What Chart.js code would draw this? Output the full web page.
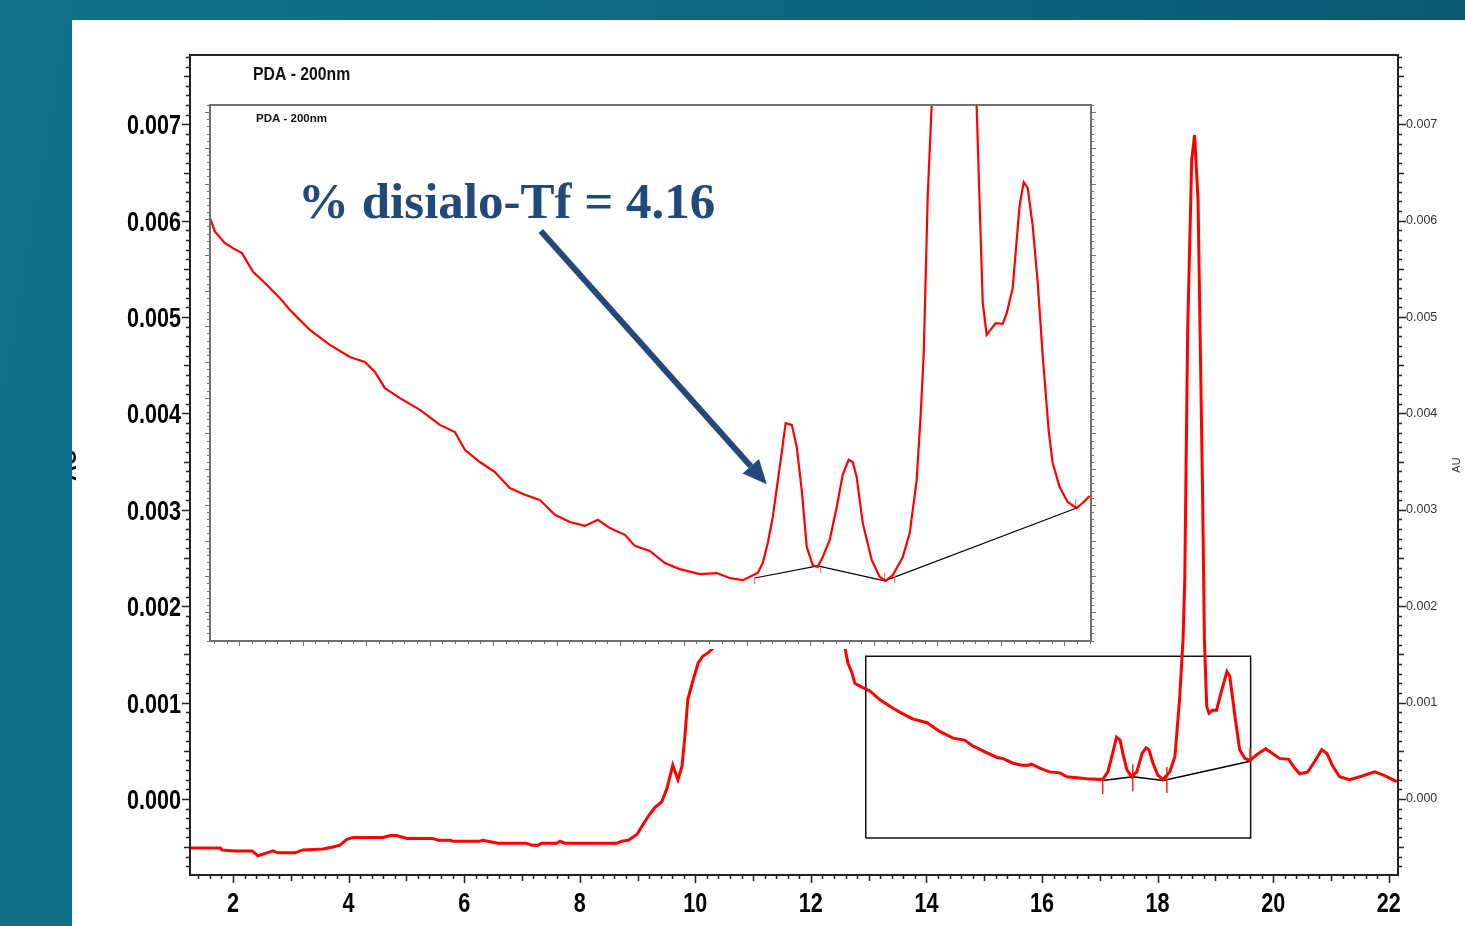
<!DOCTYPE html>
<html>
<head>
<meta charset="utf-8">
<script src="https://cdn.jsdelivr.net/npm/chart.js@4.4.1/dist/chart.umd.min.js"></script>
<style>
  html, body { margin: 0; padding: 0; }
  body {
    width: 1465px; height: 926px; position: relative; overflow: hidden;
    background: linear-gradient(100deg, #12728b 0%, #0e6880 45%, #0a5671 100%);
  }
  #page { position: absolute; left: 72px; top: 20px; right: 0; bottom: 0; background: #fff; }
  #mainChart { position: absolute; left: 0; top: 0; }
  #insetChart { position: absolute; left: 203px; top: 100px; }
</style>
</head>
<body>
<div id="page"></div>
<canvas id="mainChart" width="1465" height="926" style="width:1465px;height:926px"></canvas>
<canvas id="insetChart" width="894" height="549" style="width:894px;height:549px"></canvas>
<script>
// retention time (min) and absorbance (AU) of the full run
const mainTime = [
  1.25, 1.78, 1.81, 2.03, 2.33, 2.43, 2.59, 2.69, 2.78, 3.07,
  3.21, 3.56, 3.73, 3.85, 3.97, 4.08, 4.60, 4.72, 4.83, 5.01,
  5.46, 5.55, 5.75, 5.81, 6.27, 6.33, 6.41, 6.59, 7.08, 7.17,
  7.28, 7.34, 7.60, 7.66, 7.74, 8.64, 8.73, 8.84, 8.99, 9.10,
  9.21, 9.30, 9.42, 9.51, 9.61, 9.70, 9.77, 9.82, 9.87, 9.96,
  10.05, 10.13, 10.23, 10.30, 10.60, 11.00, 11.50, 12.00, 12.40, 12.59,
  12.64, 12.71, 12.76, 12.88, 13.02, 13.19, 13.42, 13.57, 13.76, 14.01,
  14.23, 14.46, 14.66, 14.80, 15.04, 15.22, 15.32, 15.50, 15.65, 15.76,
  15.82, 15.96, 16.13, 16.31, 16.43, 16.78, 17.05, 17.14, 17.22, 17.29,
  17.35, 17.40, 17.47, 17.55, 17.64, 17.73, 17.80, 17.85, 17.92, 18.00,
  18.09, 18.21, 18.30, 18.38, 18.44, 18.47, 18.52, 18.59, 18.64, 18.70,
  18.78, 18.81, 18.85, 18.89, 18.95, 19.02, 19.11, 19.20, 19.25, 19.34,
  19.42, 19.51, 19.60, 19.72, 19.87, 20.11, 20.27, 20.37, 20.46, 20.60,
  20.72, 20.84, 20.93, 21.03, 21.15, 21.32, 21.50, 21.76, 21.90, 22.14
]
const mainAbs = [
  -0.00051, -0.00051, -0.00053, -0.00054, -0.00054, -0.00059, -0.00056, -0.00054, -0.00056, -0.00056,
  -0.00053, -0.00052, -0.00050, -0.00048, -0.00042, -0.00040, -0.00040, -0.00038, -0.00038, -0.00041,
  -0.00041, -0.00043, -0.00043, -0.00044, -0.00044, -0.00043, -0.00044, -0.00046, -0.00046, -0.00048,
  -0.00048, -0.00046, -0.00046, -0.00044, -0.00046, -0.00046, -0.00044, -0.00043, -0.00037, -0.00026,
  -0.00016, -0.00009, -0.00003, 0.00011, 0.00035, 0.00020, 0.00034, 0.00065, 0.00103, 0.00123,
  0.00141, 0.00148, 0.00152, 0.00156, 0.00300, 0.00550, 0.00650, 0.00500, 0.00250, 0.00157,
  0.00141, 0.00131, 0.00120, 0.00116, 0.00112, 0.00103, 0.00094, 0.00089, 0.00083, 0.00079,
  0.00070, 0.00063, 0.00061, 0.00055, 0.00048, 0.00043, 0.00042, 0.00037, 0.00035, 0.00035,
  0.00036, 0.00032, 0.00028, 0.00027, 0.00023, 0.00021, 0.00020, 0.00028, 0.00047, 0.00064,
  0.00061, 0.00047, 0.00030, 0.00023, 0.00028, 0.00047, 0.00053, 0.00051, 0.00037, 0.00025,
  0.00020, 0.00028, 0.00044, 0.00103, 0.00165, 0.00227, 0.00486, 0.00663, 0.00689, 0.00621,
  0.00310, 0.00165, 0.00096, 0.00089, 0.00092, 0.00092, 0.00113, 0.00132, 0.00127, 0.00085,
  0.00051, 0.00042, 0.00040, 0.00046, 0.00052, 0.00042, 0.00041, 0.00032, 0.00026, 0.00028,
  0.00039, 0.00051, 0.00047, 0.00034, 0.00023, 0.00020, 0.00023, 0.00028, 0.00025, 0.00018
]

// zoomed trace shown in the inset
const insetTime = [
  12.770, 12.809, 12.888, 12.951, 13.022, 13.109, 13.219, 13.321, 13.400, 13.463,
  13.557, 13.715, 13.872, 13.990, 14.069, 14.148, 14.266, 14.424, 14.581, 14.699,
  14.778, 14.896, 15.014, 15.132, 15.250, 15.368, 15.487, 15.605, 15.723, 15.825,
  15.920, 16.038, 16.117, 16.235, 16.353, 16.471, 16.628, 16.762, 16.864, 16.967,
  17.085, 17.124, 17.164, 17.203, 17.258, 17.305, 17.353, 17.392, 17.431, 17.471,
  17.518, 17.557, 17.597, 17.652, 17.707, 17.754, 17.801, 17.833, 17.864, 17.912,
  17.983, 18.046, 18.093, 18.148, 18.227, 18.282, 18.337, 18.369, 18.392, 18.424,
  18.455, 18.640, 18.809, 18.825, 18.857, 18.888, 18.959, 19.014, 19.046, 19.093,
  19.148, 19.180, 19.211, 19.250, 19.290, 19.329, 19.376, 19.408, 19.463, 19.526,
  19.597, 19.644, 19.699
]
const insetAbs = [
  0.001203, 0.001165, 0.001133, 0.001119, 0.001105, 0.001053, 0.001016, 0.000979, 0.000946, 0.000923,
  0.000890, 0.000848, 0.000814, 0.000800, 0.000772, 0.000727, 0.000699, 0.000666, 0.000624, 0.000604,
  0.000554, 0.000520, 0.000492, 0.000447, 0.000428, 0.000414, 0.000372, 0.000352, 0.000341, 0.000358,
  0.000335, 0.000316, 0.000285, 0.000271, 0.000237, 0.000220, 0.000206, 0.000209, 0.000195, 0.000189,
  0.000209, 0.000237, 0.000293, 0.000366, 0.000506, 0.000629, 0.000624, 0.000562, 0.000442, 0.000282,
  0.000231, 0.000226, 0.000254, 0.000302, 0.000394, 0.000484, 0.000526, 0.000520, 0.000478, 0.000349,
  0.000245, 0.000198, 0.000187, 0.000203, 0.000254, 0.000321, 0.000470, 0.000657, 0.000820, 0.001268,
  0.001520, 0.006890, 0.001520, 0.001332, 0.000968, 0.000876, 0.000909, 0.000907, 0.000937, 0.001007,
  0.001240, 0.001304, 0.001288, 0.001184, 0.001024, 0.000820, 0.000610, 0.000517, 0.000450, 0.000408,
  0.000391, 0.000405, 0.000425
]

// integration baselines and peak markers
const mainBaseTime = [17.05, 17.57, 18.10, 19.60]
const mainBaseAbs = [0.00019, 0.00023, 0.00019, 0.00039]
const mainMarkTime = [17.05, 17.57, 18.16, 19.60]
const mainMarkTop = [0.00020, 0.00036, 0.00033, 0.00053]
const mainMarkBottom = [0.00005, 0.00008, 0.00006, 0.00038]

const insetBaseTime = [17.061, 17.557, 18.085, 19.597]
const insetBaseAbs = [0.000195, 0.000229, 0.000187, 0.000391]
const insetMarkTime = [17.061, 17.581, 18.085, 18.164, 19.589]
const insetMarkTop = [0.000198, 0.000226, 0.000209, 0.000203, 0.000414]
const insetMarkBottom = [0.000178, 0.000209, 0.000187, 0.000181, 0.000391]

// zoom box drawn on the full run
const zoomBoxTime = [12.95, 19.61]
const zoomBoxAbs = [-0.000405, 0.00148]

// axis ticks
const xTickValues = [2, 4, 6, 8, 10, 12, 14, 16, 18, 20, 22]
const xTickLabels = ['2', '4', '6', '8', '10', '12', '14', '16', '18', '20', '22']
const yTickValues = [0, 0.001, 0.002, 0.003, 0.004, 0.005, 0.006, 0.007]
const yTickLabels = ['0.000', '0.001', '0.002', '0.003', '0.004', '0.005', '0.006', '0.007']

const detectorLabel = 'PDA - 200nm'
const unitLabel = 'AU'
const annotationText = '% disialo-Tf = 4.16'
const annotationAt = { x: 13.479, y: 0.001203 }
const arrowFrom = { x: 15.376, y: 0.001167 }
const arrowTo = { x: 17.156, y: 0.000458 }

const sans = '"Liberation Sans", Arial, sans-serif'

function toPoints (xs, ys) {
  return xs.map((x, i) => ({ x: x, y: ys[i] }))
}

function markerSegments (xs, tops, bottoms) {
  const pts = []
  xs.forEach((x, i) => {
    pts.push({ x: x, y: tops[i] }, { x: x, y: bottoms[i] }, { x: x, y: null })
  })
  return pts
}

function boxPoints (xs, ys) {
  return [
    { x: xs[0], y: ys[0] }, { x: xs[1], y: ys[0] }, { x: xs[1], y: ys[1] },
    { x: xs[0], y: ys[1] }, { x: xs[0], y: ys[0] }
  ]
}

function lineSet (data, color, width, order) {
  return {
    data: data,
    borderColor: color,
    borderWidth: width,
    pointRadius: 0,
    tension: 0,
    spanGaps: false,
    fill: false,
    order: order
  }
}

// condensed text: the source uses a narrow bold face that is not installed
function narrowText (ctx, text, x, y, squeeze) {
  ctx.save()
  ctx.translate(x, y)
  ctx.scale(squeeze, 1)
  ctx.fillText(text, 0, 0)
  ctx.restore()
}

// frame plus the dense tick marks, placed with the chart's own scales
const axisTicks = {
  id: 'axisTicks',
  afterDatasetsDraw (chart, args, opts) {
    const { ctx, chartArea: area, scales } = chart
    ctx.save()
    ctx.strokeStyle = opts.color
    ctx.lineWidth = opts.frameWidth
    ctx.strokeRect(area.left, area.top, area.right - area.left, area.bottom - area.top)
    ctx.lineWidth = opts.tickWidth
    ctx.beginPath()
    const xs = scales.x
    const xo = opts.x
    for (let i = Math.ceil(xs.min / xo.step - 1e-6); i <= Math.floor(xs.max / xo.step + 1e-6); i++) {
      const px = Math.round(xs.getPixelForValue(i * xo.step)) + 0.5
      const len = i % xo.major === 0 ? xo.lens[2] : (i % xo.mid === 0 ? xo.lens[1] : xo.lens[0])
      ctx.moveTo(px, area.bottom)
      ctx.lineTo(px, area.bottom + len)
    }
    const ys = scales.y
    const yo = opts.y
    for (let i = Math.ceil(ys.min / yo.step - 1e-6); i <= Math.floor(ys.max / yo.step + 1e-6); i++) {
      const py = Math.round(ys.getPixelForValue(i * yo.step)) + 0.5
      const len = i % yo.major === 0 ? yo.lens[2] : (i % yo.mid === 0 ? yo.lens[1] : yo.lens[0])
      if (yo.left) {
        ctx.moveTo(area.left - len, py)
        ctx.lineTo(area.left, py)
      }
      if (yo.right) {
        ctx.moveTo(area.right, py)
        ctx.lineTo(area.right + len, py)
      }
    }
    ctx.stroke()
    ctx.restore()
  }
}

const mainLabels = {
  id: 'mainLabels',
  afterDraw (chart) {
    const { ctx, chartArea: area, scales } = chart
    ctx.save()
    ctx.fillStyle = '#000'
    ctx.textBaseline = 'alphabetic'

    // bold condensed tick labels on the left and bottom axes
    ctx.font = 'bold 27px ' + sans
    ctx.textAlign = 'right'
    scales.y.ticks.forEach((t, i) => {
      narrowText(ctx, yTickLabels[i], area.left - 9, scales.y.getPixelForValue(t.value) + 10, 0.8)
    })
    ctx.textAlign = 'center'
    scales.x.ticks.forEach((t, i) => {
      narrowText(ctx, xTickLabels[i], scales.x.getPixelForValue(t.value), area.bottom + 37, 0.8)
    })

    ctx.fillStyle = '#111'
    ctx.textAlign = 'left'
    ctx.font = 'bold 19px ' + sans
    narrowText(ctx, detectorLabel, area.left + 63, area.top + 25, 0.83)

    const midY = (area.top + area.bottom) / 2
    // left unit label, mostly hidden behind the slide border
    ctx.save()
    ctx.beginPath()
    ctx.rect(72, 20, 200, 900)
    ctx.clip()
    ctx.translate(76, midY)
    ctx.rotate(-Math.PI / 2)
    ctx.textAlign = 'center'
    ctx.font = 'bold 22px ' + sans
    ctx.fillText(unitLabel, 0, 0)
    ctx.restore()

    ctx.translate(area.right + 62, midY)
    ctx.rotate(-Math.PI / 2)
    ctx.textAlign = 'center'
    ctx.fillStyle = '#333'
    ctx.font = '11px ' + sans
    ctx.fillText(unitLabel, 0, 0)
    ctx.restore()
  }
}

const insetDecor = {
  id: 'insetDecor',
  beforeDraw (chart) {
    const { ctx, width, height } = chart
    ctx.save()
    ctx.fillStyle = '#fff'
    ctx.fillRect(0, 0, width, height)
    ctx.restore()
  },
  afterDraw (chart) {
    const { ctx, chartArea: area, scales } = chart
    ctx.save()
    ctx.fillStyle = '#111'
    ctx.font = 'bold 11.5px ' + sans
    ctx.fillText(detectorLabel, area.left + 46, area.top + 17)

    ctx.fillStyle = '#21497a'
    ctx.font = 'bold 51px "Liberation Serif", "DejaVu Serif", serif'
    ctx.fillText(annotationText, scales.x.getPixelForValue(annotationAt.x) - 2, scales.y.getPixelForValue(annotationAt.y))

    const x0 = scales.x.getPixelForValue(arrowFrom.x)
    const y0 = scales.y.getPixelForValue(arrowFrom.y)
    const x1 = scales.x.getPixelForValue(arrowTo.x)
    const y1 = scales.y.getPixelForValue(arrowTo.y)
    const ang = Math.atan2(y1 - y0, x1 - x0)
    const headLen = 24
    const headHalf = 11
    const bx = x1 - headLen * Math.cos(ang)
    const by = y1 - headLen * Math.sin(ang)
    ctx.strokeStyle = '#23497a'
    ctx.lineWidth = 6
    ctx.beginPath()
    ctx.moveTo(x0, y0)
    ctx.lineTo(bx, by)
    ctx.stroke()
    ctx.beginPath()
    ctx.moveTo(x1, y1)
    ctx.lineTo(bx + headHalf * Math.sin(ang), by - headHalf * Math.cos(ang))
    ctx.lineTo(bx - headHalf * Math.sin(ang), by + headHalf * Math.cos(ang))
    ctx.closePath()
    ctx.fillStyle = '#23497a'
    ctx.fill()
    ctx.restore()
  }
}

const hidden = { display: false }

const mainChart = new Chart(document.getElementById('mainChart'), {
  type: 'line',
  data: {
    datasets: [
      lineSet(toPoints(mainTime, mainAbs), '#ff0000', 3, 1),
      lineSet(markerSegments(mainMarkTime, mainMarkTop, mainMarkBottom), '#ff2020', 1.5, 2),
      lineSet(toPoints(mainBaseTime, mainBaseAbs), '#000', 1.5, 3),
      lineSet(boxPoints(zoomBoxTime, zoomBoxAbs), '#111', 1.5, 4)
    ]
  },
  options: {
    responsive: false,
    animation: false,
    devicePixelRatio: 1,
    layout: { padding: { top: 55, left: 0, right: 0, bottom: 0 } },
    plugins: {
      legend: hidden,
      tooltip: { enabled: false },
      axisTicks: {
        color: '#222',
        frameWidth: 2,
        tickWidth: 1.5,
        x: { step: 0.2, mid: 5, major: 10, lens: [4, 6, 8] },
        y: { step: 0.0001, mid: 5, major: 10, lens: [4, 6, 8], left: true, right: true }
      }
    },
    scales: {
      x: {
        type: 'linear',
        min: 1.256,
        max: 22.16,
        afterBuildTicks: s => { s.ticks = xTickValues.map(v => ({ value: v })) },
        afterFit: s => { s.height = 51 },
        grid: hidden,
        border: hidden,
        ticks: { display: false }
      },
      y: {
        type: 'linear',
        position: 'left',
        min: -0.00079,
        max: 0.00772,
        afterBuildTicks: s => { s.ticks = yTickValues.map(v => ({ value: v })) },
        afterFit: s => { s.width = 190 },
        grid: hidden,
        border: hidden,
        ticks: { display: false }
      },
      y2: {
        type: 'linear',
        position: 'right',
        min: -0.00079,
        max: 0.00772,
        afterBuildTicks: s => { s.ticks = yTickValues.map(v => ({ value: v })) },
        afterFit: s => { s.width = 67 },
        grid: hidden,
        border: hidden,
        ticks: {
          autoSkip: false,
          padding: 0,
          color: '#333',
          font: { family: sans, size: 12.5 },
          callback: v => yTickLabels[yTickValues.indexOf(v)]
        }
      }
    }
  },
  plugins: [axisTicks, mainLabels]
})

const insetChart = new Chart(document.getElementById('insetChart'), {
  type: 'line',
  data: {
    datasets: [
      lineSet(toPoints(insetTime, insetAbs), '#ff0000', 2.2, 1),
      lineSet(markerSegments(insetMarkTime, insetMarkTop, insetMarkBottom), '#ff7070', 1.2, 2),
      lineSet(toPoints(insetBaseTime, insetBaseAbs), '#000', 1.2, 3)
    ]
  },
  options: {
    responsive: false,
    animation: false,
    devicePixelRatio: 1,
    layout: { padding: { top: 5, left: 0, right: 6, bottom: 0 } },
    plugins: {
      legend: hidden,
      tooltip: { enabled: false },
      axisTicks: {
        color: '#707070',
        frameWidth: 2,
        tickWidth: 1,
        x: { step: 0.1, mid: 5, major: 5, lens: [3, 5, 5] },
        y: { step: 0.00002, mid: 5, major: 5, lens: [3, 5, 5], left: true, right: true }
      }
    },
    scales: {
      x: {
        type: 'linear',
        min: 12.77,
        max: 19.71,
        afterFit: s => { s.height = 8 },
        grid: hidden,
        border: hidden,
        ticks: hidden
      },
      y: {
        type: 'linear',
        min: 0.0000186,
        max: 0.00152,
        afterFit: s => { s.width = 7 },
        grid: hidden,
        border: hidden,
        ticks: hidden
      }
    }
  },
  plugins: [axisTicks, insetDecor]
})
</script>
</body>
</html>
